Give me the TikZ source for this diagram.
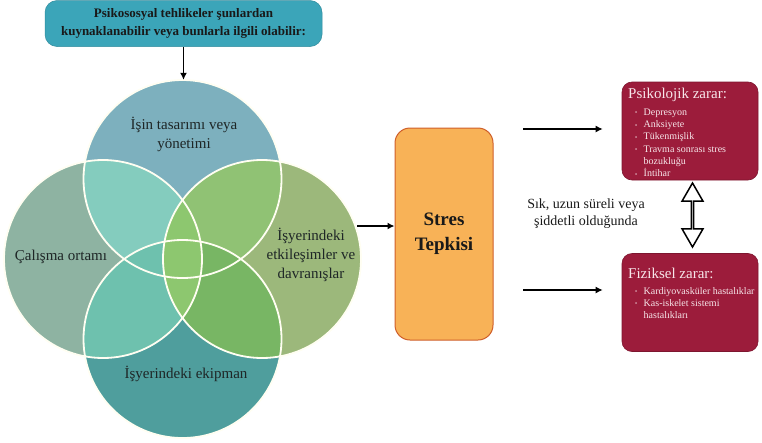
\documentclass[tikz,border=0pt]{standalone}
\usepackage{fontspec}
\setmainfont{Liberation Serif}
\usetikzlibrary{arrows.meta,shapes.arrows}

\definecolor{cTop}{HTML}{7DB0BE}
\definecolor{cLeft}{HTML}{8EB3A2}
\definecolor{cRight}{HTML}{9CB87B}
\definecolor{cBot}{HTML}{4F9E9D}
\definecolor{cTL}{HTML}{84CCBE}
\definecolor{cTR}{HTML}{90C274}
\definecolor{cBL}{HTML}{6EC1AE}
\definecolor{cBR}{HTML}{78B664}
\definecolor{cMid}{HTML}{8DC76F}
\definecolor{headTeal}{HTML}{3BA5B9}
\definecolor{stressFill}{HTML}{F8B257}
\definecolor{stressLine}{HTML}{CF5F2A}
\definecolor{harmRed}{HTML}{9C1C3B}
\definecolor{harmText}{HTML}{F7E6EA}
\definecolor{labelText}{HTML}{1E2626}

\tikzset{
  arr/.style={line width=1.4pt,-{Latex[length=7pt,width=7pt]}},
  venn/.style={circle,minimum size=198pt,inner sep=0pt},
  vennlabel/.style={font=\fontsize{15}{19}\selectfont,text=labelText,align=center,inner sep=0pt},
  harmbox/.style={rounded corners=10pt,fill=harmRed,draw=harmRed!80!black,line width=0.6pt,
    minimum width=136pt,minimum height=98pt,inner sep=0pt},
  harmtitle/.style={font=\fontsize{15}{16}\selectfont,text=harmText,anchor=west,inner sep=0pt},
  harmitems/.style={font=\fontsize{10}{12.3}\selectfont,text=harmText,anchor=north west,align=left,inner sep=0pt},
}
\newcommand{\bul}{\makebox[8.5pt][l]{\raisebox{0.5pt}{\fontsize{6}{6}\selectfont\textbullet}}}
\newcommand{\cont}{\hspace*{8.5pt}}
\newcommand{\vennR}{99pt}

\begin{document}
\begin{tikzpicture}[x=1pt,y=-1pt]
\useasboundingbox (0,0) rectangle (762,442);

% header box
\node[rounded corners=12pt,fill=headTeal,draw=headTeal!85!black,line width=0.5pt,
      minimum width=277pt,minimum height=46pt,inner sep=0pt,align=center,
      font=\bfseries\fontsize{13}{17.5}\selectfont,text=black!90]
  (head) at (183.5,23.5) {Psikososyal tehlikeler şunlardan\\kuynaklanabilir veya bunlarla ilgili olabilir:};

% four overlapping circles
\node[venn] (vt) at (182.5,179) {};
\node[venn] (vl) at (103,259) {};
\node[venn] (vr) at (262,259) {};
\node[venn] (vb) at (182.5,339) {};

\fill[cTop]   (vt.center) circle[radius=\vennR];
\fill[cLeft]  (vl.center) circle[radius=\vennR];
\fill[cRight] (vr.center) circle[radius=\vennR];
\fill[cBot]   (vb.center) circle[radius=\vennR];
\begin{scope}\clip (vt.center) circle[radius=\vennR]; \fill[cTL] (vl.center) circle[radius=\vennR]; \end{scope}
\begin{scope}\clip (vt.center) circle[radius=\vennR]; \fill[cTR] (vr.center) circle[radius=\vennR]; \end{scope}
\begin{scope}\clip (vb.center) circle[radius=\vennR]; \fill[cBL] (vl.center) circle[radius=\vennR]; \end{scope}
\begin{scope}\clip (vb.center) circle[radius=\vennR]; \fill[cBR] (vr.center) circle[radius=\vennR]; \end{scope}
\begin{scope}\clip (vl.center) circle[radius=\vennR]; \fill[cMid] (vr.center) circle[radius=\vennR]; \end{scope}
\foreach \c in {vt,vl,vr,vb}
  \draw[white!95!yellow,line width=1.8pt] (\c.center) circle[radius=\vennR];

\node[vennlabel] (lt) at (184,134) {İşin tasarımı veya\\yönetimi};
\node[vennlabel] (ll) at (61,257) {Çalışma ortamı};
\node[vennlabel] (lr) at (311,255) {İşyerindeki\\etkileşimler ve\\davranışlar};
\node[vennlabel] (lb) at (186,374) {İşyerindeki ekipman};

\draw[arr] (head.south) -- (head.south |- vt.north);

% stress response
\node[rounded corners=15pt,fill=stressFill,draw=stressLine,line width=1pt,
      minimum width=98pt,minimum height=212pt,inner sep=0pt,align=center,
      font=\bfseries\fontsize{19}{25}\selectfont,text=black!90]
  (stres) at (444,234) {Stres\\Tepkisi};

\coordinate (vout) at (357,226);
\draw[arr] (vout) -- (vout -| stres.west);

% harm boxes
\node[harmbox] (psi) at (690,131) {};
\node[harmbox] (fiz) at (690,302.5) {};

\node[harmtitle] (psit) at (628,95) {Psikolojik zarar:};
\node[harmitems] (psii) at (635,108.5) {\bul Depresyon\\ \bul Anksiyete\\ \bul Tükenmişlik\\ \bul Travma sonrası stres\\ \cont bozukluğu\\ \bul İntihar};
\node[harmtitle] (fizt) at (628,273) {Fiziksel zarar:};
\node[harmitems] (fizi) at (635,287) {\bul Kardiyovasküler hastalıklar\\ \bul Kas-iskelet sistemi\\ \cont hastalıkları};

\coordinate (s1) at (523,129);
\coordinate (s2) at (523,290);
\draw[arr] (s1) -- ([xshift=-19pt]s1 -| psi.west);
\draw[arr] (s2) -- ([xshift=-19pt]s2 -| fiz.west);

\node[font=\fontsize{14}{17}\selectfont,text=black!90,align=center,inner sep=0pt]
  (note) at (586,213.5) {Sık, uzun süreli veya\\şiddetli olduğunda};

\node[double arrow,rotate=90,draw=black,fill=white,line width=1.5pt,
      minimum height=64pt,minimum width=21pt,inner sep=0pt,
      double arrow head extend=6.5pt,double arrow head indent=0pt,
      double arrow tip angle=60]
  (dbl) at (692.5,215) {};
\end{tikzpicture}
\end{document}
